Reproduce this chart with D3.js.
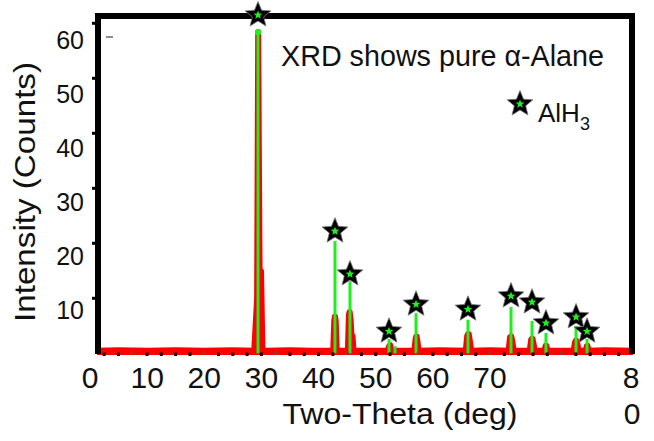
<!DOCTYPE html>
<html><head><meta charset="utf-8">
<script src="https://cdn.jsdelivr.net/npm/d3@7"></script>
<style>html,body{margin:0;padding:0;background:#fff;}svg{display:block;font-family:"Liberation Sans",Arial,sans-serif;}</style>
</head><body>
<script>
// ---------- data ----------
// measured pattern (red): two-theta (deg) and intensity (counts)
const patternTheta = [5.0,8.0,12.0,16.0,20.0,24.0,26.9,27.3,27.45,27.65,27.85,28.05,28.25,28.6,
  32.0,35.0,37.95,38.1,38.2,38.4,38.5,38.65,40.0,40.15,40.25,40.45,40.6,40.7,40.85,41.0,
  45.6,45.8,46.1,46.3,49.3,49.5,49.6,49.8,49.9,50.1,53.0,56.5,56.7,56.85,57.1,57.25,57.45,
  60.0,62.5,62.7,62.85,63.05,63.2,63.4,65.45,65.65,65.8,66.0,66.15,66.35,67.5,67.7,67.95,68.15,
  71.6,71.8,71.95,72.15,72.3,72.5,73.3,73.45,73.7,73.9,76.0,80.0];
const patternCounts = [0.6,0.7,0.6,0.7,0.6,0.7,0.6,10,58.5,58.5,15,15,0.8,0.6,
  0.7,0.6,0.6,6.0,6.8,6.8,6.0,0.6,0.6,7.0,7.6,7.6,6.0,3.5,3.2,0.6,
  0.6,1.4,1.6,0.6,0.6,2.8,3.2,3.2,2.5,0.6,0.7,0.6,3.2,3.6,3.6,2.5,0.6,
  0.7,0.6,3.0,3.2,3.2,2.3,0.6,0.6,2.5,2.8,2.8,2.0,0.6,0.6,1.5,1.5,0.6,
  0.6,2.1,2.4,2.4,1.8,0.6,0.6,1.4,1.5,0.6,0.7,0.6];
// reference lines (green) for AlH3
const refTheta  = [27.53,38.30,40.40,45.86,46.70,49.64,56.91,62.93,65.87,67.82,72.03,73.57];
const refCounts = [58.4,20.4,13.1,2.6,1.3,7.3,6.1,8.4,5.9,3.7,5.0,2.6];
// star markers (AlH3 peaks)
const starTheta  = [27.53,38.30,40.40,45.86,49.64,56.91,62.93,65.87,67.82,72.03,73.57];
const starCounts = [61.5,22.2,14.4,4.0,8.9,8.0,10.4,9.3,5.5,6.6,4.0];
// tick labels
const xTickLabels = ["0","10","20","30","40","50","60","70"];
const yTickLabels = ["60","50","40","30","20","10"];
const yTickValues = [60,50,40,30,20,10];

// ---------- layout ----------
const W = 654, H = 441;
const svg = d3.select("body").append("svg").attr("width", W).attr("height", H);
const x = d3.scaleLinear().domain([5, 80]).range([97, 633]);
const y = d3.scaleLinear().domain([0, 60]).range([353.3, 23.3]);
const xLab = d3.scalePoint().domain(xTickLabels).range([90, 490]);
const yLab = d3.scalePoint().domain(yTickLabels).range([40, 310]);
const pat = patternTheta.map((t, i) => [t, patternCounts[i]]);

// red pattern (filled + thick stroke)
svg.append("path").datum(pat)
  .attr("d", d3.area().x(d => x(d[0])).y0(355).y1(d => y(d[1])))
  .attr("fill", "#ff0000");
svg.append("path").datum(pat)
  .attr("d", d3.line().x(d => x(d[0])).y(d => y(d[1])))
  .attr("fill", "none").attr("stroke", "#ff0000").attr("stroke-width", 4.5)
  .attr("stroke-linejoin", "round").attr("stroke-linecap", "round");

// green reference lines
svg.selectAll("line.ref").data(refTheta).join("line")
  .attr("class", "ref")
  .attr("x1", d => x(d)).attr("x2", d => x(d))
  .attr("y1", y(0)).attr("y2", (d, i) => y(refCounts[i]))
  .attr("stroke", "#1ef01e").attr("stroke-width", 3);
svg.append("circle").attr("cx", x(refTheta[0])).attr("cy", y(refCounts[0]))
  .attr("r", 3.2).attr("fill", "#1ef01e");

// minor ticks along bottom
const minorTicks = d3.range(6, 80, 2).filter(v => v % 10 !== 0);
svg.selectAll("rect.mt").data(minorTicks).join("rect")
  .attr("x", d => x(d) - 1.5).attr("y", 352.5).attr("width", 3).attr("height", 3.5).attr("fill", "#000");
svg.selectAll("circle.mj").data(d3.range(10, 80, 10)).join("circle")
  .attr("cx", d => x(d)).attr("cy", 353).attr("r", 1.6)
  .attr("fill", "none").attr("stroke", "#555").attr("stroke-width", 0.8);

// frame
svg.append("rect").attr("x", 95).attr("y", 13).attr("width", 6).attr("height", 341).attr("fill", "#000");
svg.append("rect").attr("x", 95).attr("y", 13).attr("width", 540).attr("height", 6).attr("fill", "#000");
svg.append("rect").attr("x", 629).attr("y", 13).attr("width", 6).attr("height", 341).attr("fill", "#000");
// y ticks on the frame
svg.selectAll("rect.yt").data(yTickValues).join("rect")
  .attr("x", 92).attr("y", d => y(d) - 1.5).attr("width", 3).attr("height", 3).attr("fill", "#000");
// stray dash
svg.append("line").attr("x1", 106).attr("x2", 113).attr("y1", 37).attr("y2", 37)
  .attr("stroke", "#444").attr("stroke-width", 1.2);

// star shape
function starPath(R, r) {
  const pts = [];
  for (let k = 0; k < 10; k++) {
    const a = -Math.PI / 2 + k * Math.PI / 5;
    const rr = k % 2 === 0 ? R : r;
    pts.push([rr * Math.cos(a), rr * Math.sin(a)]);
  }
  return "M" + pts.map(p => p[0].toFixed(2) + "," + p[1].toFixed(2)).join("L") + "Z";
}
function drawStar(g, cx, cy) {
  const s = g.append("g").attr("transform", `translate(${cx},${cy})`);
  s.append("path").attr("d", starPath(13.5, 6)).attr("fill", "#000").attr("stroke", "#777").attr("stroke-width", 0.8);
  s.append("path").attr("d", starPath(4.5, 2)).attr("fill", "#1ef01e");
}
starTheta.forEach((t, i) => drawStar(svg, x(t), y(starCounts[i])));

// y tick labels
svg.selectAll("text.yl").data(yTickLabels).join("text")
  .attr("x", 84).attr("y", d => yLab(d) + 9)
  .attr("text-anchor", "end").attr("font-size", 25).attr("fill", "#111")
  .text(d => d);
// x tick labels
svg.selectAll("text.xl").data(xTickLabels).join("text")
  .attr("x", d => xLab(d)).attr("y", 388)
  .attr("text-anchor", "middle").attr("font-size", 30).attr("fill", "#111")
  .text(d => d);
svg.append("text").attr("x", 631).attr("y", 388).attr("text-anchor", "middle")
  .attr("font-size", 30).attr("fill", "#111").text("8");
svg.append("text").attr("x", 632).attr("y", 424).attr("text-anchor", "middle")
  .attr("font-size", 30).attr("fill", "#111").text("0");

// axis titles
svg.append("text").attr("x", 400).attr("y", 424).attr("text-anchor", "middle")
  .attr("font-size", 30).attr("fill", "#111").attr("textLength", 235).attr("lengthAdjust", "spacingAndGlyphs")
  .text("Two-Theta (deg)");
svg.append("text").attr("transform", "translate(35,192) rotate(-90)").attr("text-anchor", "middle")
  .attr("font-size", 30).attr("fill", "#111").attr("textLength", 260).attr("lengthAdjust", "spacingAndGlyphs")
  .text("Intensity (Counts)");

// annotation
svg.append("text").attr("x", 281).attr("y", 66)
  .attr("font-size", 30).attr("fill", "#111").attr("textLength", 323).attr("lengthAdjust", "spacingAndGlyphs")
  .text("XRD shows pure α-Alane");

// legend
drawStar(svg, 520, 104);
const lt = svg.append("text").attr("x", 538).attr("y", 122).attr("font-size", 26).attr("fill", "#111");
lt.append("tspan").text("AlH");
lt.append("tspan").attr("font-size", 18).attr("dy", 8).text("3");
</script>
</body></html>
